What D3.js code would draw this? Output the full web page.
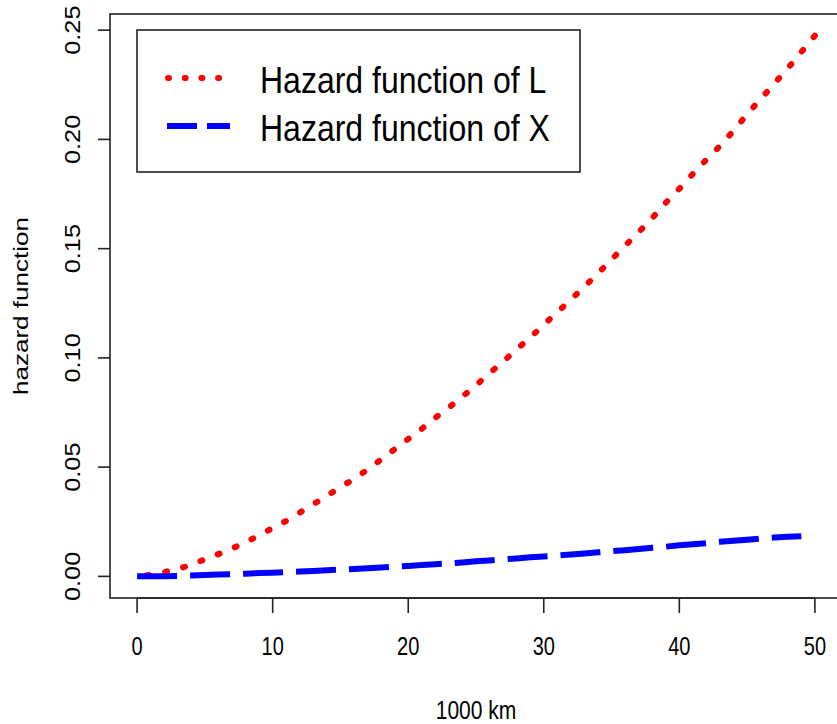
<!DOCTYPE html>
<html>
<head>
<meta charset="utf-8">
<script src="https://cdn.jsdelivr.net/npm/d3@7"></script>
<style>
  html, body { margin: 0; padding: 0; background: #fff; }
  svg { display: block; }
  text { font-family: "Liberation Sans", Arial, sans-serif; fill: #000; }
</style>
</head>
<body>
<svg id="chart" width="837" height="724"></svg>
<script>
// Distance in thousands of km
const distance = d3.range(0, 51);

// Hazard function of L (red, dotted), at each distance 0..50
const hazardL = [
  0.0000, 0.0007, 0.0020, 0.0033, 0.0054, 0.0078, 0.0102, 0.0127, 0.0156, 0.0188,
  0.0221, 0.0254, 0.0292, 0.0330, 0.0369, 0.0408, 0.0446, 0.0489, 0.0535, 0.0582,
  0.0629, 0.0675, 0.0726, 0.0773, 0.0823, 0.0875, 0.0930, 0.0983, 0.1039, 0.1093,
  0.1152, 0.1209, 0.1267, 0.1326, 0.1387, 0.1450, 0.1514, 0.1575, 0.1640, 0.1710,
  0.1774, 0.1842, 0.1908, 0.1970, 0.2040, 0.2115, 0.2185, 0.2255, 0.2325, 0.2400,
  0.2475
];

// Hazard function of X (blue, dashed), at each distance 0..49
const hazardX = [
  0.0000, 0.0000, 0.0001, 0.0002, 0.0004, 0.0006, 0.0008, 0.0010, 0.0012, 0.0015,
  0.0017, 0.0020, 0.0022, 0.0025, 0.0028, 0.0031, 0.0034, 0.0037, 0.0041, 0.0044,
  0.0048, 0.0052, 0.0056, 0.0060, 0.0064, 0.0069, 0.0073, 0.0078, 0.0082, 0.0087,
  0.0091, 0.0096, 0.0100, 0.0105, 0.0110, 0.0115, 0.0120, 0.0125, 0.0131, 0.0136,
  0.0142, 0.0147, 0.0152, 0.0158, 0.0163, 0.0168, 0.0173, 0.0178, 0.0181, 0.0184
];

const xTicks = [0, 10, 20, 30, 40, 50];
const yTicks = [0.00, 0.05, 0.10, 0.15, 0.20, 0.25];
const legendLabels = ["Hazard function of L", "Hazard function of X"];

const svg = d3.select("#chart");

// Plot region (R style: data range padded by 4% on each side)
const box = { left: 110, right: 842, top: 14, bottom: 598 };
const xPad = (50 - 0) * 0.04;
const yMax = d3.max(hazardL);
const yPad = yMax * 0.04;

const x = d3.scaleLinear().domain([0 - xPad, 50 + xPad]).range([box.left, box.right]);
const y = d3.scaleLinear().domain([0 - yPad, yMax + yPad]).range([box.bottom, box.top]);

// Frame
svg.append("rect")
  .attr("x", box.left).attr("y", box.top)
  .attr("width", box.right - box.left).attr("height", box.bottom - box.top)
  .attr("fill", "none").attr("stroke", "#222").attr("stroke-width", 1.6);

// Curves
const line = d3.line().x(d => x(d[0])).y(d => y(d[1]));

const dotGap = 16.5, dotLen = 2;
const redPath = svg.append("path")
  .datum(hazardL.map((v, i) => [distance[i], v]))
  .attr("d", line)
  .attr("fill", "none")
  .attr("stroke", "#ff0000")
  .attr("stroke-width", 6)
  .attr("stroke-linecap", "round")
  .attr("stroke-dasharray", `${dotLen},${dotGap}`);
// shift the dot pattern so one dot sits at the end of the curve
const redLen = redPath.node().getTotalLength();
const period = dotLen + dotGap;
redPath.attr("stroke-dashoffset", period - ((redLen - dotLen) % period));

svg.append("path")
  .datum(hazardX.map((v, i) => [distance[i], v]))
  .attr("d", line)
  .attr("fill", "none")
  .attr("stroke", "#0000ff")
  .attr("stroke-width", 6)
  .attr("stroke-linecap", "butt")
  .attr("stroke-dasharray", "40,13");

// Bottom axis
const xAxisG = svg.append("g");
xAxisG.append("line")
  .attr("x1", x(xTicks[0])).attr("x2", x(xTicks[xTicks.length - 1]))
  .attr("y1", box.bottom).attr("y2", box.bottom)
  .attr("stroke", "#222").attr("stroke-width", 1.6);
xTicks.forEach(t => {
  xAxisG.append("line")
    .attr("x1", x(t)).attr("x2", x(t))
    .attr("y1", box.bottom).attr("y2", box.bottom + 15)
    .attr("stroke", "#222").attr("stroke-width", 1.6);
  xAxisG.append("text")
    .attr("transform", `translate(${x(t)},655) scale(1,1.25)`)
    .attr("text-anchor", "middle")
    .attr("font-size", 20)
    .text(t);
});

// Left axis
const yAxisG = svg.append("g");
yTicks.forEach(t => {
  yAxisG.append("line")
    .attr("x1", box.left - 12).attr("x2", box.left)
    .attr("y1", y(t)).attr("y2", y(t))
    .attr("stroke", "#222").attr("stroke-width", 1.6);
  yAxisG.append("text")
    .attr("transform", `translate(80,${y(t)}) scale(1,1.15) rotate(-90)`)
    .attr("text-anchor", "middle")
    .attr("font-size", 22)
    .text(d3.format(".2f")(t));
});

// Axis titles
svg.append("text")
  .attr("transform", `translate(${(box.left + box.right) / 2},719) scale(1,1.25)`)
  .attr("text-anchor", "middle")
  .attr("font-size", 21)
  .text("1000 km");

svg.append("text")
  .attr("transform", `translate(28,${(box.top + box.bottom) / 2}) scale(1,1.24) rotate(-90)`)
  .attr("text-anchor", "middle")
  .attr("font-size", 21)
  .text("hazard function");

// Legend
const legend = svg.append("g");
legend.append("rect")
  .attr("x", 137).attr("y", 30)
  .attr("width", 443).attr("height", 142)
  .attr("fill", "#fff").attr("stroke", "#222").attr("stroke-width", 1.6);

const legendStyles = [
  { color: "#ff0000", dash: "1,15.7", cap: "round", x1: 168, x2: 222, y: 78 },
  { color: "#0000ff", dash: "30,10", cap: "butt", x1: 167, x2: 230, y: 126 }
];
legendLabels.forEach((label, i) => {
  const s = legendStyles[i];
  legend.append("line")
    .attr("x1", s.x1).attr("x2", s.x2)
    .attr("y1", s.y).attr("y2", s.y)
    .attr("stroke", s.color).attr("stroke-width", 6)
    .attr("stroke-linecap", s.cap)
    .attr("stroke-dasharray", s.dash);
  legend.append("text")
    .attr("transform", `translate(260,${s.y + 15}) scale(1,1.17)`)
    .attr("font-size", 32)
    .text(label);
});
</script>
</body>
</html>
